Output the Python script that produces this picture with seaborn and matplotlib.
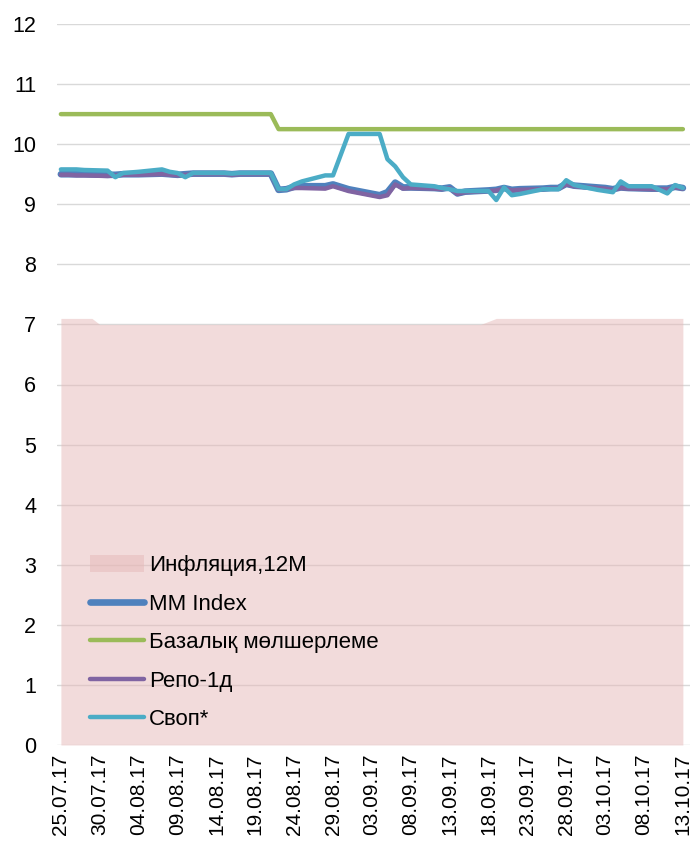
import matplotlib
matplotlib.use("Agg")
import matplotlib.pyplot as plt
import matplotlib.dates as mdates
from matplotlib.patches import Patch
from matplotlib.lines import Line2D
import seaborn as sns
import pandas as pd

# ---- data ----
dates = ["25.07.17", "26.07.17", "27.07.17", "28.07.17", "31.07.17",
         "01.08.17", "02.08.17", "03.08.17", "04.08.17", "07.08.17",
         "08.08.17", "09.08.17", "10.08.17", "11.08.17", "14.08.17",
         "15.08.17", "16.08.17", "17.08.17", "18.08.17", "21.08.17",
         "22.08.17", "23.08.17", "24.08.17", "25.08.17", "28.08.17",
         "29.08.17", "31.08.17", "04.09.17", "05.09.17", "06.09.17",
         "07.09.17", "08.09.17", "11.09.17", "12.09.17", "13.09.17",
         "14.09.17", "15.09.17", "18.09.17", "19.09.17", "20.09.17",
         "21.09.17", "22.09.17", "25.09.17", "26.09.17", "27.09.17",
         "28.09.17", "29.09.17", "02.10.17", "03.10.17", "04.10.17",
         "05.10.17", "06.10.17", "09.10.17", "10.10.17", "11.10.17",
         "12.10.17", "13.10.17"]

base_rate = [10.5] * 20 + [10.25] * 37

mm_index = [9.50, 9.50, 9.50, 9.50, 9.49, 9.49, 9.50, 9.50, 9.50, 9.51,
            9.50, 9.49, 9.50, 9.51, 9.51, 9.51, 9.50, 9.51, 9.51, 9.51,
            9.24, 9.25, 9.29, 9.30, 9.30, 9.33, 9.25, 9.15, 9.20, 9.36,
            9.28, 9.28, 9.27, 9.26, 9.28, 9.18, 9.21, 9.23, 9.24, 9.27,
            9.24, 9.25, 9.26, 9.27, 9.27, 9.34, 9.31, 9.28, 9.27, 9.25,
            9.28, 9.27, 9.26, 9.26, 9.26, 9.29, 9.27]

repo = [9.49, 9.49, 9.48, 9.48, 9.47, 9.48, 9.49, 9.49, 9.49, 9.50,
        9.49, 9.48, 9.49, 9.50, 9.50, 9.50, 9.49, 9.50, 9.50, 9.50,
        9.24, 9.25, 9.27, 9.27, 9.26, 9.30, 9.22, 9.12, 9.15, 9.33,
        9.26, 9.27, 9.26, 9.25, 9.27, 9.17, 9.20, 9.22, 9.23, 9.26,
        9.23, 9.24, 9.25, 9.26, 9.26, 9.33, 9.30, 9.27, 9.26, 9.24,
        9.27, 9.26, 9.25, 9.25, 9.25, 9.28, 9.26]

swap = [9.58, 9.58, 9.58, 9.57, 9.56, 9.45, 9.52, 9.53, 9.54, 9.58,
        9.54, 9.52, 9.45, 9.52, 9.52, 9.52, 9.51, 9.52, 9.52, 9.52,
        9.25, 9.25, 9.33, 9.38, 9.48, 9.48, 10.17, 10.17, 9.75, 9.63,
        9.45, 9.33, 9.30, 9.27, 9.25, 9.22, 9.22, 9.22, 9.07, 9.28,
        9.15, 9.17, 9.25, 9.25, 9.25, 9.40, 9.32, 9.24, 9.22, 9.20,
        9.38, 9.30, 9.30, 9.24, 9.18, 9.32, 9.27]

infl_dates = ["25.07.17", "29.07.17", "30.07.17", "17.09.17", "19.09.17", "13.10.17"]
inflation = [7.1, 7.1, 7.0, 7.0, 7.1, 7.1]

tick_labels_start = "25.07.17"
y_ticks = list(range(0, 13))

labels = ["Инфляция,12M", "MM Index", "Базалық мөлшерлеме", "Репо-1д", "Своп*"]
colors = {"infl": "#E6B9B8", "mm": "#4F81BD", "base": "#9BBB59",
          "repo": "#8064A2", "swap": "#4BACC6"}

# ---- frame ----
d = pd.to_datetime(dates, format="%d.%m.%y")
df = pd.DataFrame({"date": d, "mm": mm_index, "base": base_rate,
                   "repo": repo, "swap": swap})
idf = pd.DataFrame({"date": pd.to_datetime(infl_dates, format="%d.%m.%y"),
                    "infl": inflation})

sns.set_theme(style="white")
plt.rcParams["font.family"] = ["Liberation Sans", "DejaVu Sans"]
plt.rcParams["text.color"] = "black"

fig = plt.figure(figsize=(6.96, 8.5), dpi=100)
ax = fig.add_axes([57 / 696, 1 - 745 / 850, (690 - 57) / 696, (745 - 24) / 850])

ax.fill_between(idf["date"], 0, idf["infl"], color=colors["infl"], alpha=0.5,
                linewidth=0, zorder=1)

sns.lineplot(data=df, x="date", y="base", ax=ax, color=colors["base"], lw=3.2,
             zorder=3, solid_capstyle="round")
sns.lineplot(data=df, x="date", y="mm", ax=ax, color=colors["mm"], lw=4.8,
             zorder=4, solid_capstyle="round")
sns.lineplot(data=df, x="date", y="repo", ax=ax, color=colors["repo"], lw=3.2,
             zorder=5, solid_capstyle="round")
sns.lineplot(data=df, x="date", y="swap", ax=ax, color=colors["swap"], lw=3.2,
             zorder=6, solid_capstyle="round")

start = pd.to_datetime(tick_labels_start, format="%d.%m.%y")
ax.set_xlim(start - pd.Timedelta(hours=12), d[-1] + pd.Timedelta(hours=22))
ax.set_ylim(0, 12)
ax.set_yticks(y_ticks)
ticks = pd.date_range(start, d[-1], freq="5D")
ax.set_xticks(ticks)
ax.xaxis.set_major_formatter(mdates.DateFormatter("%d.%m.%y"))
ax.tick_params(axis="x", rotation=90, labelsize=15, pad=6, length=0,
               colors="black")
ax.tick_params(axis="y", labelsize=15.5, pad=15, length=0, colors="black")
ax.grid(axis="y", color="#D9D9D9", lw=1, zorder=0)
ax.grid(axis="x", visible=False)
ax.set_axisbelow(True)
for s in ax.spines.values():
    s.set_visible(False)
ax.set_xlabel("")
ax.set_ylabel("")

handles = [Patch(facecolor=colors["infl"], alpha=0.5, edgecolor="none"),
           Line2D([], [], color=colors["mm"], lw=4.8, solid_capstyle="round"),
           Line2D([], [], color=colors["base"], lw=3.2, solid_capstyle="round"),
           Line2D([], [], color=colors["repo"], lw=3.2, solid_capstyle="round"),
           Line2D([], [], color=colors["swap"], lw=3.2, solid_capstyle="round")]
fig.legend(handles, labels, loc="upper left",
           bbox_to_anchor=(90 / 696, 1 - 555 / 850),
           bbox_transform=fig.transFigure, frameon=False, fontsize=16,
           labelcolor="black",
           handlelength=2.45, handleheight=0.8, handletextpad=0.22,
           labelspacing=0.78, borderpad=0, borderaxespad=0)

fig.savefig("out.png", dpi=100)
